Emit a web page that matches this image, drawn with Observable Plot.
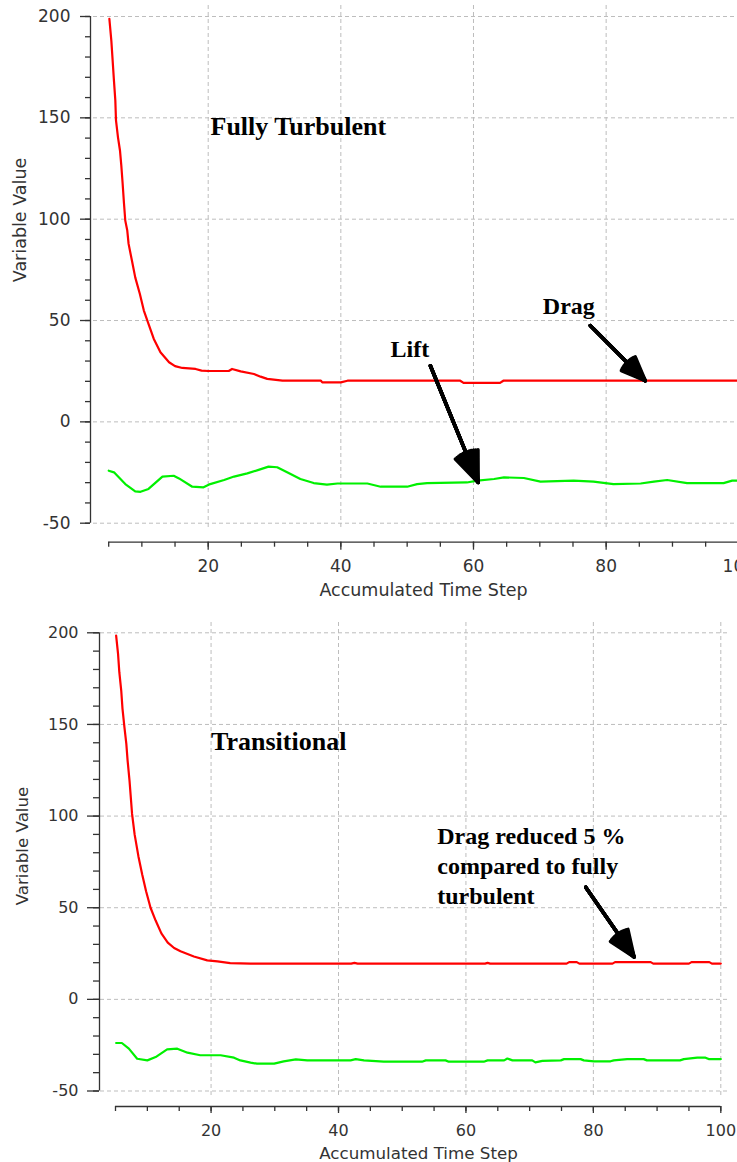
<!DOCTYPE html>
<html><head><meta charset="utf-8">
<script src="https://cdn.jsdelivr.net/npm/d3@7"></script>
<script src="https://cdn.jsdelivr.net/npm/@observablehq/plot@0.6"></script>
<style>body{margin:0;background:#fff} svg{display:block}</style>
</head><body><div id="chart"></div>
<script>
// ---------- data ----------
const yTicksMajor = [-50, 0, 50, 100, 150, 200];
const yTicksMinor = [-50, -40, -30, -20, -10, 0, 10, 20, 30, 40, 50, 60, 70, 80, 90, 100, 110, 120, 130, 140, 150, 160, 170, 180, 190, 200];
const xTicksMajor = [20, 40, 60, 80, 100];
const xTicksMinor = [5, 10, 15, 20, 25, 30, 35, 40, 45, 50, 55, 60, 65, 70, 75, 80, 85, 90, 95, 100];
const yTitle = "Variable Value";
const xTitle = "Accumulated Time Step";

// Fully turbulent: drag
const topDragX = [5.1, 5.4, 5.6, 5.8, 6.0, 6.1, 6.4, 6.7, 6.9, 7.1, 7.3, 7.5, 7.8, 8.0, 8.5, 9.0, 9.7, 10.3, 11.0, 11.8, 12.8, 14.1, 15.0, 16.1, 18.1, 19.0, 20.0, 23.1, 23.6, 24.9, 26.9, 27.9, 28.9, 31.2, 37.0, 37.2, 40.0, 41.0, 58.0, 58.5, 64.0, 64.5, 100];
const topDragV = [198.9, 188, 178, 168, 158.5, 148.7, 140.4, 133.9, 126.5, 117.6, 108, 99.3, 94.4, 87.8, 79.6, 71.3, 63.1, 54.9, 48.3, 40.9, 34.3, 29.4, 27.5, 26.6, 26.1, 25.3, 25.1, 25.1, 26.1, 24.9, 23.6, 22.3, 21.2, 20.3, 20.3, 19.5, 19.5, 20.3, 20.3, 19.2, 19.2, 20.3, 20.3];
// Fully turbulent: lift
const topLiftX = [5.0, 5.8, 7.5, 9.0, 9.8, 11.0, 13.1, 14.8, 15.6, 17.6, 19.3, 20.3, 22.4, 23.9, 25.9, 27.6, 29.1, 30.4, 31.9, 33.9, 35.9, 37.9, 39.5, 44.0, 46.0, 50.0, 51.5, 53.0, 59.0, 60.6, 63.1, 64.6, 67.6, 70.1, 75.1, 78.1, 81.1, 85.2, 87.2, 89.2, 92.2, 97.7, 99.0, 100];
const topLiftV = [-24.1, -24.9, -30.7, -34.3, -34.5, -33.1, -27.0, -26.6, -27.9, -32.0, -32.3, -30.7, -28.7, -27.0, -25.4, -23.7, -22.1, -22.4, -24.9, -28.2, -30.2, -31.0, -30.4, -30.4, -32.0, -32.0, -30.7, -30.2, -29.9, -29.0, -28.2, -27.4, -27.7, -29.5, -29.0, -29.5, -30.7, -30.4, -29.5, -28.7, -30.2, -30.2, -29.0, -29.0];

// Transitional: drag
const botDragX = [5.1, 5.4, 5.6, 5.9, 6.1, 6.4, 6.7, 6.9, 7.2, 7.6, 8.0, 8.6, 9.2, 9.8, 10.5, 11.3, 12.2, 13.2, 14.2, 15.2, 17.3, 19.4, 21.0, 23.0, 26.2, 42.0, 42.5, 43.0, 63.0, 63.4, 63.8, 75.8, 76.2, 77.4, 77.8, 83.0, 83.4, 89.0, 89.4, 95.0, 95.4, 98.2, 98.6, 100];
const botDragV = [198.5, 188.5, 178.5, 168.5, 158.5, 148.5, 139.4, 130.3, 119.4, 101.2, 90, 78, 68, 59, 50, 43, 36, 31, 28, 26.2, 23.4, 21.3, 20.7, 19.8, 19.5, 19.5, 19.9, 19.5, 19.5, 19.9, 19.5, 19.5, 20.3, 20.3, 19.5, 19.5, 20.3, 20.3, 19.5, 19.5, 20.3, 20.3, 19.5, 19.5];
// Transitional: lift
const botLiftX = [5.1, 6.0, 7.1, 8.4, 10.0, 11.3, 13.1, 14.7, 16.3, 18.3, 21.5, 23.6, 24.6, 26.2, 27.2, 29.9, 31.4, 33.3, 35.1, 41.9, 42.7, 44.0, 47.1, 53.1, 53.7, 56.8, 57.3, 62.8, 63.4, 66.0, 66.5, 67.3, 70.4, 70.9, 72.0, 74.9, 75.4, 78.0, 78.5, 80.1, 82.7, 83.2, 85.3, 87.9, 88.4, 93.6, 94.2, 96.3, 97.6, 98.1, 100];
const botLiftV = [-23.8, -23.8, -26.9, -32.4, -33.3, -31.5, -27.3, -26.9, -29.1, -30.5, -30.5, -31.8, -33.3, -34.5, -35.1, -35.1, -33.8, -32.7, -33.3, -33.3, -32.6, -33.3, -34.0, -34.0, -33.3, -33.3, -34.0, -34.0, -33.3, -33.3, -32.3, -33.3, -33.3, -34.4, -33.6, -33.3, -32.6, -32.6, -33.3, -33.8, -33.8, -33.3, -32.6, -32.6, -33.3, -33.3, -32.6, -31.8, -31.8, -32.6, -32.6];

// annotations (data coordinates)
const topTitle = [{label: "Fully Turbulent", x: 20.35, y: 141.3}];
const topLabels = [{label: "Drag", x: 70.45, y: 53.3}, {label: "Lift", x: 47.5, y: 31.8}];
const topArrows = [{x1: 77.6, y1: 47.5, x2: 85.9, y2: 20.3}, {x1: 53.5, y1: 27.7, x2: 60.7, y2: -29.9}];
const botTitle = [{label: "Transitional", x: 20.0, y: 135.8}];
const botLabels = [{label: "Drag reduced 5 %\ncompared to fully\nturbulent", x: 55.5, y: 51.8}];
const botArrows = [{x1: 78.8, y1: 61.2, x2: 86.4, y2: 23.1}];

const toRows = (xs, vs) => xs.map((x, i) => ({x, v: vs[i]}));

// ---------- chart builder ----------
function chart(cfg) {
  const ink = "#333";
  const gridStyle = {stroke: "#bdbdbd", strokeDasharray: "4,3", strokeWidth: 1};
  const arrowOpts = {x1: "x1", y1: "y1", x2: "x2", y2: "y2", stroke: "black", strokeWidth: 3.5, headLength: 14, strokeLinejoin: "miter"};
  return Plot.plot({
    width: 737, height: cfg.height,
    marginLeft: cfg.mL, marginRight: cfg.mR, marginTop: cfg.mT, marginBottom: cfg.mB,
    style: {fontFamily: "DejaVu Sans", background: "white"},
    x: {domain: [5, 100], range: cfg.xRange, label: null},
    y: {domain: [-50, 200], range: cfg.yRange, label: null},
    marks: [
      Plot.ruleY(yTicksMajor, gridStyle),
      Plot.ruleX(xTicksMajor, gridStyle),
      // y axis
      Plot.ruleX([5], {y1: -50, y2: 200, dx: cfg.yLineDx, stroke: ink, strokeWidth: 1.3}),
      Plot.axisY({ticks: yTicksMinor, anchor: "left", tickSize: cfg.yMinor, text: null, label: null, dx: cfg.yAxisDx, stroke: ink, strokeWidth: 1.3}),
      Plot.axisY({ticks: yTicksMajor, anchor: "left", tickSize: cfg.yMajor, tickPadding: cfg.yPad, label: null, dx: cfg.yAxisDx, color: ink, strokeWidth: 1.3, fontSize: cfg.tickFont, tickFormat: d => String(d)}),
      // x axis
      Plot.ruleY([-50], {x1: 5, x2: 100, dy: cfg.xLineDy, stroke: ink, strokeWidth: 1.3}),
      Plot.axisX({ticks: xTicksMinor, anchor: "bottom", tickSize: cfg.xMinor, text: null, label: null, dy: cfg.xAxisDy, stroke: ink, strokeWidth: 1.3}),
      Plot.axisX({ticks: xTicksMajor, anchor: "bottom", tickSize: cfg.xMajor, tickPadding: cfg.xPad, label: null, dy: cfg.xAxisDy, color: ink, strokeWidth: 1.3, fontSize: cfg.tickFont, tickFormat: d => String(d)}),
      // axis titles
      Plot.text([yTitle], {frameAnchor: "left", textAnchor: "middle", rotate: -90, dx: cfg.yTitleDx, dy: cfg.yTitleDy, fill: ink, fontSize: cfg.titleFont}),
      Plot.text([xTitle], {frameAnchor: "bottom", textAnchor: "middle", dx: cfg.xTitleDx, dy: cfg.xTitleDy, lineAnchor: "middle", fill: ink, fontSize: cfg.titleFont}),
      // series
      Plot.line(toRows(cfg.dragX, cfg.dragV), {x: "x", y: "v", stroke: "#ff0000", strokeWidth: 2.2}),
      Plot.line(toRows(cfg.liftX, cfg.liftV), {x: "x", y: "v", stroke: "#00f000", strokeWidth: 2.2}),
      // annotations
      Plot.text(cfg.title, {x: "x", y: "y", text: "label", textAnchor: "start", lineAnchor: "bottom", fontFamily: "Liberation Serif", fontWeight: "bold", fontSize: 26, fill: "black"}),
      Plot.text(cfg.labels, {x: "x", y: "y", text: "label", textAnchor: "start", lineAnchor: "bottom", fontFamily: "Liberation Serif", fontWeight: "bold", fontSize: 24, lineHeight: 1.25, fill: "black"}),
      Plot.arrow(cfg.arrows, {...arrowOpts, headAngle: 44}),
      Plot.arrow(cfg.arrows, {...arrowOpts, headAngle: 36}),
      Plot.arrow(cfg.arrows, {...arrowOpts, headAngle: 28}),
      Plot.arrow(cfg.arrows, {...arrowOpts, headAngle: 20}),
      Plot.arrow(cfg.arrows, {...arrowOpts, headAngle: 12}),
      Plot.arrow(cfg.arrows, {...arrowOpts, headAngle: 4})
    ]
  });
}

const chartTop = chart({
  height: 605, mL: 93, mR: 0, mT: 5, mB: 77,
  xRange: [108.2, 738.3], yRange: [522.7, 16],
  yLineDx: -18.2, yAxisDx: -3, yMajor: 10, yMinor: 5, yPad: 10,
  xLineDy: 19, xAxisDy: 13.7, xMajor: 8, xMinor: 5, xPad: 10,
  tickFont: 17, titleFont: 17.5,
  yTitleDx: -73, yTitleDy: -47, xTitleDx: 8, xTitleDy: 62,
  dragX: topDragX, dragV: topDragV, liftX: topLiftX, liftV: topLiftV,
  title: topTitle, labels: topLabels, arrows: topArrows
});
const chartBottom = chart({
  height: 557, mL: 100, mR: 7, mT: 17, mB: 65,
  xRange: [115, 720.3], yRange: [485.5, 27.3],
  yLineDx: -16, yAxisDx: -1, yMajor: 12, yMinor: 6, yPad: 9,
  xLineDy: 15.5, xAxisDy: 9, xMajor: 7, xMinor: 5, xPad: 11,
  tickFont: 16, titleFont: 16.7,
  yTitleDx: -78, yTitleDy: -14, xTitleDx: 3, xTitleDy: 56,
  dragX: botDragX, dragV: botDragV, liftX: botLiftX, liftV: botLiftV,
  title: botTitle, labels: botLabels, arrows: botArrows
});
document.getElementById("chart").append(chartTop, chartBottom);
</script>
</body></html>
